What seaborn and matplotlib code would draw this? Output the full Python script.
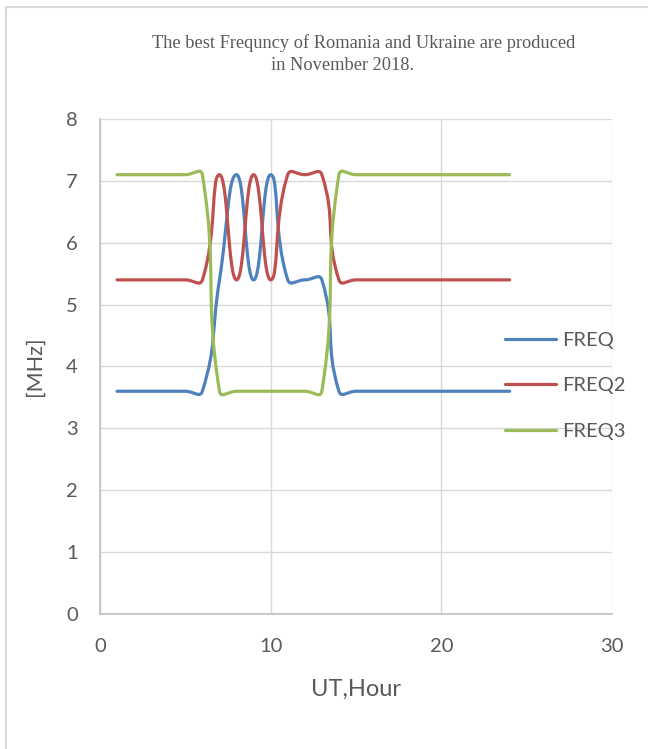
import matplotlib
matplotlib.use("Agg")
import matplotlib.pyplot as plt
import seaborn as sns
import numpy as np
from matplotlib.path import Path
from matplotlib.patches import PathPatch
from matplotlib.lines import Line2D

hours = [1, 2, 3, 4, 5, 6, 7, 8, 9, 10, 11, 12, 13, 14, 15, 16, 17, 18, 19, 20, 21, 22, 23, 24]
freq = [3.6, 3.6, 3.6, 3.6, 3.6, 3.6, 5.4, 7.1, 5.4, 7.1, 5.4, 5.4, 5.4, 3.6, 3.6, 3.6, 3.6, 3.6, 3.6, 3.6, 3.6, 3.6, 3.6, 3.6]
freq2 = [5.4, 5.4, 5.4, 5.4, 5.4, 5.4, 7.1, 5.4, 7.1, 5.4, 7.1, 7.1, 7.1, 5.4, 5.4, 5.4, 5.4, 5.4, 5.4, 5.4, 5.4, 5.4, 5.4, 5.4]
freq3 = [7.1, 7.1, 7.1, 7.1, 7.1, 7.1, 3.6, 3.6, 3.6, 3.6, 3.6, 3.6, 3.6, 7.1, 7.1, 7.1, 7.1, 7.1, 7.1, 7.1, 7.1, 7.1, 7.1, 7.1]
series_names = ["FREQ", "FREQ2", "FREQ3"]
colors = ["#4F81BD", "#C0504D", "#9BBB59"]
x_ticks = [0, 10, 20, 30]
y_ticks = [0, 1, 2, 3, 4, 5, 6, 7, 8]
title_line1 = "The best Frequncy of Romania and Ukraine are produced"
title_line2 = "in November 2018."

sns.set_theme(style="white")
plt.rcParams['font.family'] = ['Lato', 'DejaVu Sans']

W, H = 648, 749
fig = plt.figure(figsize=(W / 100, H / 100), dpi=100)
ax = fig.add_axes([100 / W, 1 - 614 / H, (612 - 100) / W, (614 - 119) / H])
ax.set_xlim(0, 30)
ax.set_ylim(0, 8)


def smooth_path(xs, ys, ax, k=0.5):
    # Excel-like smoothed line: cubic Bezier, tangents split by segment length (screen space)
    pts = np.column_stack([xs, ys]).astype(float)
    scr = ax.transData.transform(pts)
    n = len(pts)
    cin = [None] * n
    cout = [None] * n
    for i in range(n):
        if i == 0 or i == n - 1:
            cin[i] = pts[i]
            cout[i] = pts[i]
            continue
        T = pts[i + 1] - pts[i - 1]
        d_in = np.hypot(*(scr[i] - scr[i - 1]))
        d_out = np.hypot(*(scr[i + 1] - scr[i]))
        s = d_in + d_out
        cin[i] = pts[i] - T * k * d_in / s
        cout[i] = pts[i] + T * k * d_out / s
    verts = [pts[0]]
    codes = [Path.MOVETO]
    for i in range(n - 1):
        c1 = cout[i] if i > 0 else pts[i] + (pts[i + 1] - pts[i]) / 3.0
        c2 = cin[i + 1] if i + 1 < n - 1 else pts[i + 1] - (pts[i + 1] - pts[i]) / 3.0
        verts += [c1, c2, pts[i + 1]]
        codes += [Path.CURVE4, Path.CURVE4, Path.CURVE4]
    return Path(verts, codes)


for ys, c in zip([freq, freq2, freq3], colors):
    patch = PathPatch(smooth_path(hours, ys, ax), facecolor="none", edgecolor=c,
                      lw=2.3, capstyle="round", joinstyle="round", zorder=3)
    ax.add_patch(patch)

ax.set_xticks(x_ticks)
ax.set_yticks(y_ticks)
ax.grid(True, color="#D9D9D9", lw=1.0)
ax.set_axisbelow(True)
for s in ["top", "right"]:
    ax.spines[s].set_visible(False)
for s in ["left", "bottom"]:
    ax.spines[s].set_color("#BFBFBF")
    ax.spines[s].set_linewidth(1.2)
ax.tick_params(axis="both", length=0, labelsize=14.5, labelcolor="#595959")
ax.tick_params(axis="x", pad=17)
ax.tick_params(axis="y", pad=16)

ax.set_xlabel("UT,Hour", fontsize=17, color="#595959", va="center", ha="center")
ax.xaxis.set_label_coords((356 - 100) / 512, (614 - 689) / 495)
ax.set_ylabel("[MHz]", fontsize=15.5, color="#595959", va="center", ha="center")
ax.yaxis.set_label_coords((35 - 100) / 512, (614 - 366) / 495)

fig.text(364 / W, 1 - 43 / H, title_line1, ha="center", va="center", fontsize=13.2,
         family="Liberation Serif", color="#595959")
fig.text(343 / W, 1 - 65 / H, title_line2, ha="center", va="center", fontsize=13.2,
         family="Liberation Serif", color="#595959")

handles = [Line2D([0], [0], color=c, lw=2.3, solid_capstyle="round") for c in colors]
fig.legend(handles, series_names, loc="upper left",
           bbox_to_anchor=(505 / W, 1 - 332 / H), frameon=False,
           fontsize=14.5, handlelength=2.55, handletextpad=0.3,
           labelspacing=1.4, borderpad=0, borderaxespad=0,
           labelcolor="#595959")

# outer chart border
fig.add_artist(Line2D([6 / W, 6 / W], [0, 1 - 7 / H], color="#D9D9D9", lw=1.5,
                      transform=fig.transFigure))
fig.add_artist(Line2D([6 / W, 1], [1 - 7 / H, 1 - 7 / H], color="#D9D9D9", lw=1.5,
                      transform=fig.transFigure))

fig.savefig("out.png", dpi=100, facecolor="white")
